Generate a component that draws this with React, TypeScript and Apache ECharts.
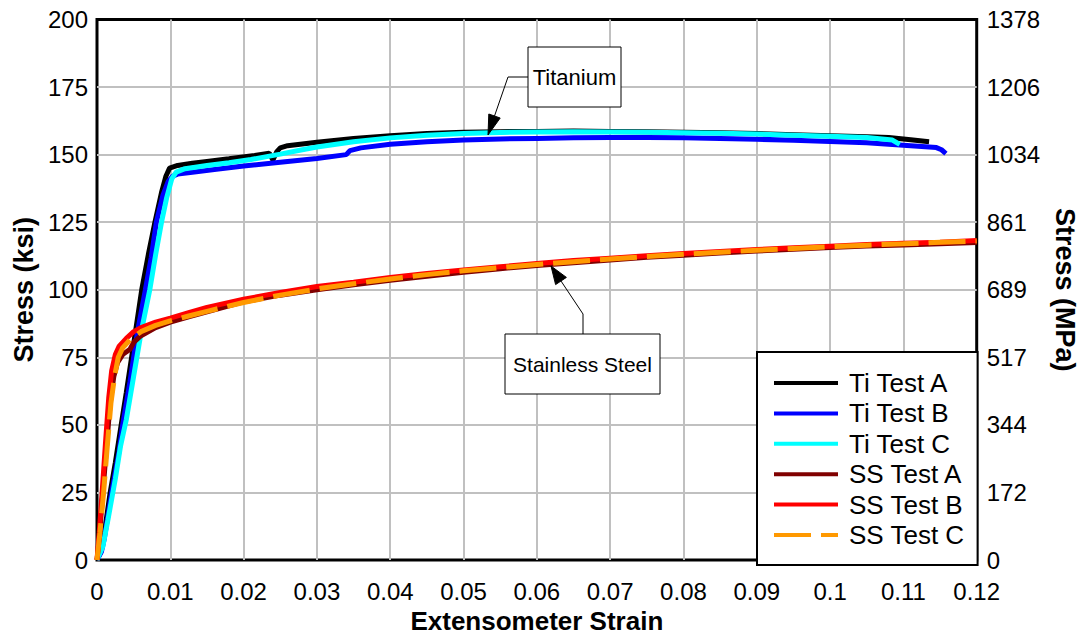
import React, { useEffect, useRef } from "react";
import * as echarts from "echarts";

type Pt = [number, number];

const TI_A: Pt[] = [
  [0, 0], [0.0005, 3], [0.001, 10], [0.0018, 25], [0.0025, 36], [0.0033, 50], [0.004, 62], [0.005, 80],
  [0.0061, 100], [0.007, 113], [0.0079, 125], [0.0088, 136], [0.0094, 142], [0.0099, 145], [0.011, 146],
  [0.013, 146.8], [0.015, 147.5], [0.018, 148.5], [0.0215, 149.7], [0.0235, 150.5], [0.024, 148],
  [0.0245, 151], [0.025, 152.5], [0.026, 153.3], [0.03, 154.6], [0.035, 156], [0.04, 157], [0.045, 157.8],
  [0.05, 158.3], [0.055, 158.5], [0.06, 158.6], [0.065, 158.7], [0.07, 158.6], [0.075, 158.5], [0.08, 158.3],
  [0.085, 158.1], [0.09, 157.8], [0.095, 157.4], [0.1, 157], [0.105, 156.6], [0.108, 156.3], [0.111, 155.5],
  [0.1135, 154.8],
];

const TI_B: Pt[] = [
  [0, 0], [0.0006, 3], [0.001, 8], [0.002, 25], [0.003, 40], [0.0035, 50], [0.0045, 66], [0.0055, 84],
  [0.0066, 100], [0.0074, 112], [0.0081, 125], [0.009, 135], [0.0097, 140], [0.0103, 142], [0.011, 142.8],
  [0.013, 143.5], [0.016, 144.5], [0.02, 145.8], [0.025, 147.2], [0.03, 148.6], [0.034, 150], [0.0345, 151.5],
  [0.036, 152.5], [0.04, 153.8], [0.045, 154.8], [0.05, 155.4], [0.055, 155.8], [0.06, 156], [0.065, 156.2],
  [0.07, 156.3], [0.075, 156.3], [0.08, 156.2], [0.085, 156], [0.09, 155.7], [0.095, 155.3], [0.1, 154.9],
  [0.105, 154.4], [0.108, 153.8], [0.111, 153.3], [0.1145, 152.6], [0.1152, 151.8], [0.1158, 150.4],
];

const TI_C: Pt[] = [
  [0, 0], [0.0008, 5], [0.0015, 15], [0.0025, 30], [0.0032, 42], [0.004, 52], [0.005, 68], [0.006, 84],
  [0.0072, 100], [0.008, 113], [0.0088, 125], [0.0095, 134], [0.0102, 141], [0.0108, 143.5], [0.012, 144.8],
  [0.015, 146], [0.018, 147], [0.021, 148.2], [0.025, 150.2], [0.028, 151.8], [0.03, 152.8], [0.035, 154.8],
  [0.04, 156.2], [0.045, 157.2], [0.05, 157.8], [0.055, 158.2], [0.06, 158.4], [0.065, 158.5], [0.07, 158.4],
  [0.075, 158.3], [0.08, 158.1], [0.085, 157.9], [0.09, 157.6], [0.095, 157.2], [0.1, 156.8], [0.105, 156.3],
  [0.1085, 155.4], [0.1095, 153.8],
];

const SS_A: Pt[] = [
  [0, 0], [0.0003, 8], [0.0008, 25], [0.0013, 42], [0.0018, 58], [0.0023, 68], [0.0028, 73], [0.0035, 76],
  [0.0045, 78], [0.005, 80.5], [0.006, 83], [0.008, 86], [0.01, 88], [0.0125, 90], [0.015, 91.8], [0.02, 95.5],
  [0.025, 98], [0.03, 100], [0.035, 101.8], [0.04, 103.5], [0.045, 105], [0.05, 106.5], [0.055, 107.8],
  [0.06, 109], [0.065, 110], [0.07, 111], [0.075, 112], [0.08, 112.8], [0.085, 113.6], [0.09, 114.3],
  [0.095, 115], [0.1, 115.6], [0.105, 116.2], [0.11, 116.6], [0.115, 117], [0.12, 117.5],
];

const SS_B: Pt[] = [
  [0, 0], [0.0003, 10], [0.0007, 25], [0.0012, 45], [0.0016, 60], [0.002, 70], [0.0025, 76], [0.003, 79],
  [0.004, 82], [0.005, 84.5], [0.006, 86], [0.008, 88], [0.01, 89.5], [0.0125, 91.5], [0.015, 93.5],
  [0.02, 96.5], [0.025, 99], [0.03, 101.2], [0.035, 102.8], [0.04, 104.5], [0.045, 106], [0.05, 107.3],
  [0.055, 108.5], [0.06, 109.7], [0.065, 110.8], [0.07, 111.7], [0.075, 112.6], [0.08, 113.4], [0.085, 114.2],
  [0.09, 114.9], [0.095, 115.5], [0.1, 116.1], [0.105, 116.7], [0.11, 117.2], [0.115, 117.6], [0.12, 118.2],
];

const SS_C: Pt[] = [
  [0, 0], [0.0004, 10], [0.0009, 25], [0.0014, 42], [0.0019, 58], [0.0024, 68], [0.0029, 75], [0.0035, 78.5],
  [0.0045, 81.5], [0.006, 84.5], [0.008, 86.8], [0.01, 88.5], [0.0125, 90.3], [0.015, 92], [0.02, 95.3],
  [0.025, 98], [0.03, 100.3], [0.035, 102.2], [0.04, 104], [0.045, 105.6], [0.05, 107], [0.055, 108.2],
  [0.06, 109.3], [0.065, 110.4], [0.07, 111.4], [0.075, 112.3], [0.08, 113.1], [0.085, 113.9], [0.09, 114.6],
  [0.095, 115.3], [0.1, 115.9], [0.105, 116.5], [0.11, 117], [0.115, 117.6], [0.12, 118],
];

const SERIES_NAMES = ["Ti Test A", "Ti Test B", "Ti Test C", "SS Test A", "SS Test B", "SS Test C"];
const SERIES_DATA = [TI_A, TI_B, TI_C, SS_A, SS_B, SS_C];
const SERIES_COLORS = ["#000000", "#0000ff", "#00ffff", "#800000", "#ff0000", "#ff9900"];

const MPA_TICKS = ["0", "172", "344", "517", "689", "861", "1034", "1206", "1378"];

const ARIAL = "'Liberation Sans', Arial, sans-serif";

export default function App() {
  const ref = useRef<HTMLDivElement>(null);

  useEffect(() => {
    document.body.style.margin = "0";
    const chart = echarts.init(ref.current!, null, { renderer: "svg" });

    const series = SERIES_NAMES.map((name, i) => ({
      name,
      type: "line",
      data: SERIES_DATA[i],
      symbol: "none",
      showSymbol: false,
      smooth: false,
      color: SERIES_COLORS[i],
      lineStyle: {
        color: SERIES_COLORS[i],
        width: 5,
        type: i === 5 ? [37, 10] : "solid",
      },
      yAxisIndex: 0,
    }));

    const axisLabelBase = { fontFamily: ARIAL, fontSize: 24, color: "#000" };
    const nameStyle = { fontFamily: ARIAL, fontWeight: "bold", fontSize: 27, color: "#000" };
    const splitLine = {
      show: true,
      showMinLine: false,
      showMaxLine: false,
      lineStyle: { color: "#c0c0c0", width: 2 },
    };

    chart.setOption({
      animation: false,
      backgroundColor: "#ffffff",
      grid: {
        left: 97,
        right: 104,
        top: 19.5,
        bottom: 74,
        show: true,
        borderColor: "#000",
        borderWidth: 3,
        containLabel: false,
      },
      xAxis: {
        type: "value",
        min: 0,
        max: 0.12,
        interval: 0.01,
        name: "Extensometer Strain",
        nameLocation: "middle",
        nameGap: 48,
        nameTextStyle: { ...nameStyle, fontSize: 26 },
        axisLine: { show: false },
        axisTick: { show: false },
        axisLabel: {
          ...axisLabelBase,
          margin: 19,
          formatter: (v: number) => String(+v.toFixed(2)),
        },
        splitLine,
      },
      yAxis: [
        {
          type: "value",
          min: 0,
          max: 200,
          interval: 25,
          position: "left",
          name: "Stress (ksi)",
          nameLocation: "middle",
          nameGap: 58,
          nameTextStyle: nameStyle,
          axisLine: { show: false },
          axisTick: { show: false },
          axisLabel: { ...axisLabelBase, margin: 9 },
          splitLine,
        },
        {
          type: "value",
          min: 0,
          max: 200,
          interval: 25,
          position: "right",
          name: "Stress (MPa)",
          nameLocation: "middle",
          nameRotate: -90,
          nameGap: 72,
          nameTextStyle: nameStyle,
          axisLine: { show: false },
          axisTick: { show: false },
          axisLabel: {
            ...axisLabelBase,
            margin: 10,
            formatter: (v: number) => MPA_TICKS[Math.round(v / 25)] ?? "",
          },
          splitLine: { show: false },
        },
      ],
      legend: {
        orient: "vertical",
        left: 757,
        top: 352,
        padding: [18, 13, 17, 15],
        itemWidth: 64,
        itemHeight: 14,
        itemGap: 4.4,
        backgroundColor: "#ffffff",
        borderColor: "#000",
        borderWidth: 2,
        selectedMode: false,
        itemStyle: { opacity: 0 },
        lineStyle: { width: 4 },
        textStyle: {
          fontFamily: ARIAL,
          fontSize: 26,
          lineHeight: 26,
          color: "#000",
          padding: [0, 0, 0, 6],
        },
        data: SERIES_NAMES,
      },
      graphic: [
        {
          type: "polyline",
          z: 100,
          shape: { points: [[528, 77], [508, 77], [494.5, 116]] },
          style: { stroke: "#000", lineWidth: 1, fill: null },
        },
        {
          type: "polygon",
          z: 100,
          shape: { points: [[488, 135], [500.2, 118], [488.8, 114]] },
          style: { fill: "#000", stroke: "#000", lineWidth: 1 },
        },
        {
          type: "rect",
          z: 100,
          shape: { x: 528, y: 47, width: 93, height: 60 },
          style: { fill: "#fff", stroke: "#000", lineWidth: 1 },
        },
        {
          type: "text",
          z: 101,
          x: 574.5,
          y: 77,
          style: { text: "Titanium", fontFamily: ARIAL, fontSize: 22, fill: "#000", align: "center", verticalAlign: "middle" },
        },
        {
          type: "polyline",
          z: 100,
          shape: { points: [[583, 334], [583, 314], [561, 281]] },
          style: { stroke: "#000", lineWidth: 1, fill: null },
        },
        {
          type: "polygon",
          z: 100,
          shape: { points: [[551, 266], [566.4, 277.4], [555.6, 284.6]] },
          style: { fill: "#000", stroke: "#000", lineWidth: 1 },
        },
        {
          type: "rect",
          z: 100,
          shape: { x: 505, y: 334, width: 155, height: 60 },
          style: { fill: "#fff", stroke: "#000", lineWidth: 1 },
        },
        {
          type: "text",
          z: 101,
          x: 582.5,
          y: 364,
          style: { text: "Stainless Steel", fontFamily: ARIAL, fontSize: 21, fill: "#000", align: "center", verticalAlign: "middle" },
        },
      ],
      series,
    });

    return () => chart.dispose();
  }, []);

  return <div ref={ref} style={{ width: 1086, height: 639 }} />;
}
